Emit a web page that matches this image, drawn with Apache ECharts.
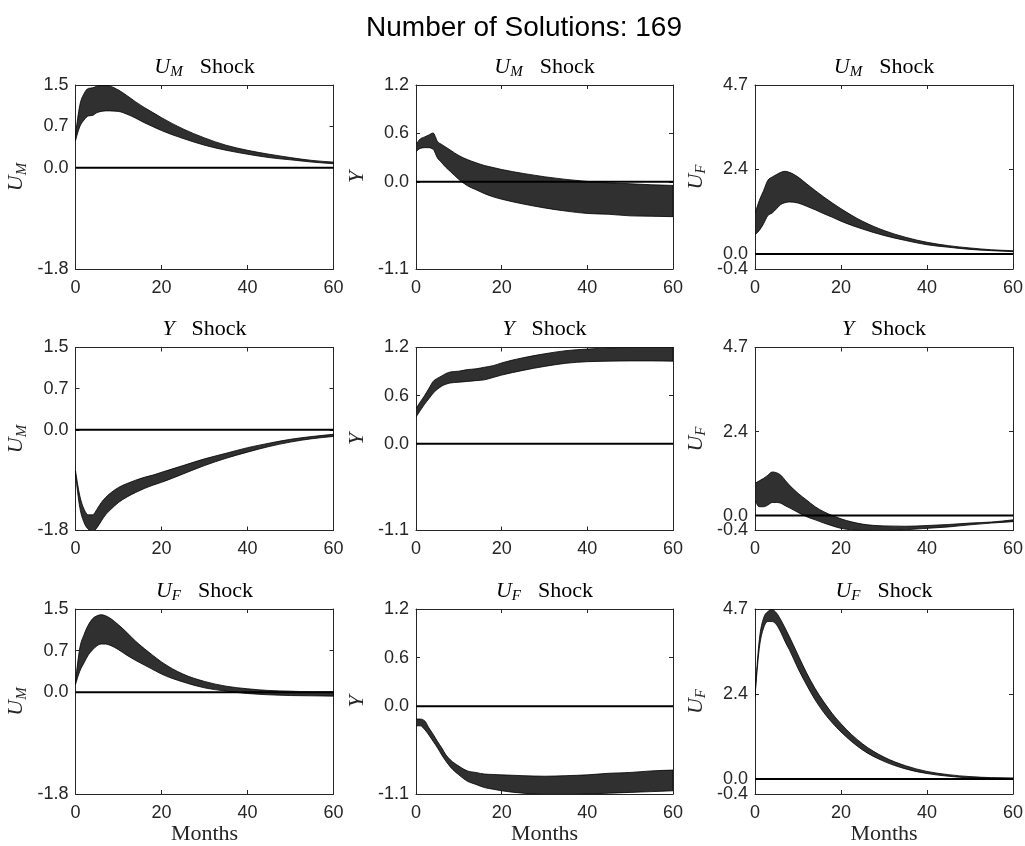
<!DOCTYPE html>
<html><head><meta charset="utf-8">
<script src="https://cdn.jsdelivr.net/npm/echarts@6/dist/echarts.min.js"></script>
<style>html,body{margin:0;padding:0;background:#fff}#c{width:1025px;height:846px}</style>
</head><body><div id="c"></div>
<script>
const months = [0,1,2,3,4,5,6,7,8,10,12,14,16,18,20,25,30,35,40,45,50,55,60];
const xTicks = [0,20,40,60];

const umShockUMHi = [0.58,1.11,1.32,1.41,1.42,1.45,1.46,1.46,1.45,1.38,1.28,1.17,1.07,0.98,0.89,0.69,0.53,0.40,0.31,0.24,0.18,0.13,0.10];
const umShockUMLo = [0.48,0.73,0.85,0.92,0.93,0.98,1.00,1.01,1.01,1.00,0.95,0.88,0.80,0.73,0.66,0.52,0.40,0.31,0.24,0.18,0.14,0.10,0.07];
const umShockYHi = [0.47,0.54,0.565,0.59,0.615,0.51,0.47,0.435,0.40,0.33,0.28,0.24,0.205,0.18,0.155,0.105,0.063,0.03,0.004,-0.013,-0.025,-0.038,-0.046];
const umShockYLo = [0.38,0.42,0.43,0.43,0.41,0.30,0.24,0.18,0.13,0.03,-0.05,-0.10,-0.15,-0.19,-0.22,-0.28,-0.33,-0.37,-0.40,-0.41,-0.43,-0.435,-0.44];
const umShockUFHi = [1.13,1.50,1.78,2.07,2.16,2.23,2.29,2.32,2.29,2.16,1.97,1.78,1.60,1.43,1.27,0.92,0.66,0.47,0.33,0.235,0.17,0.12,0.094];
const umShockUFLo = [0.54,0.66,0.85,1.08,1.15,1.27,1.39,1.44,1.46,1.43,1.34,1.24,1.13,1.03,0.92,0.70,0.52,0.38,0.26,0.19,0.13,0.094,0.066];

const yShockUMHi = [-0.73,-1.18,-1.42,-1.52,-1.52,-1.42,-1.30,-1.21,-1.14,-1.03,-0.96,-0.90,-0.85,-0.81,-0.76,-0.64,-0.52,-0.42,-0.32,-0.24,-0.17,-0.12,-0.08];
const yShockUMLo = [-0.79,-1.39,-1.66,-1.78,-1.82,-1.75,-1.63,-1.52,-1.44,-1.30,-1.20,-1.12,-1.05,-0.99,-0.94,-0.79,-0.64,-0.51,-0.40,-0.30,-0.22,-0.16,-0.12];
const yShockYHi = [0.445,0.53,0.61,0.70,0.79,0.83,0.86,0.89,0.91,0.92,0.94,0.95,0.97,0.99,1.025,1.09,1.14,1.18,1.20,1.215,1.22,1.22,1.22];
const yShockYLo = [0.34,0.42,0.50,0.57,0.64,0.69,0.73,0.755,0.77,0.78,0.79,0.80,0.81,0.84,0.87,0.93,0.98,1.02,1.04,1.047,1.05,1.05,1.047];
const yShockUFHi = [0.91,0.98,1.05,1.14,1.23,1.21,1.14,1.00,0.86,0.63,0.44,0.25,0.11,0.00,-0.09,-0.24,-0.29,-0.30,-0.28,-0.25,-0.21,-0.18,-0.12];
const yShockUFLo = [0.44,0.25,0.25,0.30,0.37,0.37,0.35,0.28,0.22,0.09,-0.03,-0.12,-0.21,-0.29,-0.36,-0.42,-0.43,-0.40,-0.36,-0.32,-0.26,-0.21,-0.17];

const ufShockUMHi = [0.19,0.78,1.02,1.19,1.30,1.35,1.37,1.35,1.31,1.19,1.05,0.90,0.77,0.65,0.535,0.32,0.19,0.106,0.06,0.03,0.018,0.006,0.006];
const ufShockUMLo = [0.135,0.37,0.52,0.66,0.75,0.82,0.85,0.85,0.83,0.75,0.65,0.56,0.48,0.40,0.32,0.18,0.076,0.018,-0.024,-0.047,-0.06,-0.065,-0.07];
const ufShockYHi = [-0.16,-0.16,-0.18,-0.27,-0.35,-0.44,-0.52,-0.61,-0.67,-0.75,-0.81,-0.83,-0.85,-0.855,-0.86,-0.87,-0.877,-0.87,-0.86,-0.84,-0.83,-0.81,-0.80];
const ufShockYLo = [-0.245,-0.245,-0.29,-0.36,-0.44,-0.52,-0.61,-0.69,-0.76,-0.86,-0.94,-0.98,-1.02,-1.04,-1.06,-1.09,-1.105,-1.105,-1.10,-1.09,-1.08,-1.07,-1.06];
const ufShockUFHi = [2.34,3.88,4.49,4.67,4.72,4.63,4.44,4.21,3.97,3.46,2.96,2.52,2.15,1.82,1.54,0.98,0.61,0.37,0.21,0.12,0.065,0.037,0.028];
const ufShockUFLo = [2.29,3.64,4.21,4.39,4.39,4.30,4.09,3.83,3.60,3.08,2.62,2.20,1.85,1.56,1.31,0.81,0.49,0.28,0.15,0.075,0.028,0.01,-0.01];

// y-axis ranges and tick values per response variable (columns)
const yTicksUM = [-1.8, 0, 0.735, 1.47];
const yTicksY = [-1.1, 0, 0.61, 1.22];
const yTicksUF = [-0.42, 0, 2.37, 4.74];

const shockNames = ['{it|U}{sub|M}', '{it|Y}', '{it|U}{sub|F}'];
const respNames = ['{it|U}{sub|M}', '{it|Y}', '{it|U}{sub|F}'];
const mainTitle = 'Number of Solutions: 169';
const xName = 'Months';

const bands = [
  [[umShockUMHi, umShockUMLo], [umShockYHi, umShockYLo], [umShockUFHi, umShockUFLo]],
  [[yShockUMHi, yShockUMLo], [yShockYHi, yShockYLo], [yShockUFHi, yShockUFLo]],
  [[ufShockUMHi, ufShockUMLo], [ufShockYHi, ufShockYLo], [ufShockUFHi, ufShockUFLo]]
];
const colTicks = [yTicksUM, yTicksY, yTicksUF];

const colLeft = [75.5, 416, 755];
const colWidth = [258, 257, 258];
const rowTop = [85, 347.5, 609];
const rowHeight = [184, 183, 185];

const SERIF = '"Liberation Serif","Times New Roman",serif';
const SANS = '"Liberation Sans",Arial,Helvetica,sans-serif';
const AX = '#262626';

const rich = {
  it: {fontFamily: SERIF, fontStyle: 'italic', fontSize: 22, lineHeight: 26, color: '#000'},
  sub: {fontFamily: SERIF, fontStyle: 'italic', fontSize: 15, lineHeight: 14, verticalAlign: 'bottom', color: '#000'},
  rm: {fontFamily: SERIF, fontSize: 22, lineHeight: 26, color: '#000', padding: [0, 0, 0, 17]}
};
const richAx = {
  it: {fontFamily: SERIF, fontStyle: 'italic', fontSize: 22, lineHeight: 26, color: AX},
  sub: {fontFamily: SERIF, fontStyle: 'italic', fontSize: 15, lineHeight: 14, verticalAlign: 'bottom', color: AX}
};

// monotone cubic (in pixel space) segments for a polyline with increasing x
function monoSegments(p) {
  const n = p.length, t = new Array(n).fill(0);
  const sgn = v => (v > 0) - (v < 0);
  for (let i = 1; i < n - 1; i++) {
    const h0 = p[i][0] - p[i-1][0], h1 = p[i+1][0] - p[i][0];
    const s0 = (p[i][1] - p[i-1][1]) / h0, s1 = (p[i+1][1] - p[i][1]) / h1;
    const q = (s0 * h1 + s1 * h0) / (h0 + h1);
    t[i] = (sgn(s0) + sgn(s1)) * Math.min(Math.abs(s0), Math.abs(s1), 0.5 * Math.abs(q)) || 0;
  }
  const hA = p[1][0] - p[0][0];
  t[0] = (3 * (p[1][1] - p[0][1]) / hA - t[1]) / 2;
  const hB = p[n-1][0] - p[n-2][0];
  t[n-1] = (3 * (p[n-1][1] - p[n-2][1]) / hB - t[n-2]) / 2;
  const segs = [];
  for (let i = 0; i < n - 1; i++) {
    const h = (p[i+1][0] - p[i][0]) / 3;
    segs.push([p[i], [p[i][0] + h, p[i][1] + t[i] * h], [p[i+1][0] - h, p[i+1][1] - t[i+1] * h], p[i+1]]);
  }
  return segs;
}
const f = v => v.toFixed(2);

function bandRenderer(hi, lo) {
  return function (params, api) {
    const up = months.map((m, i) => api.coord([m, hi[i]]));
    const dn = months.map((m, i) => api.coord([m, lo[i]]));
    const su = monoSegments(up), sd = monoSegments(dn);
    let d = 'M' + f(up[0][0]) + ' ' + f(up[0][1]);
    su.forEach(s => { d += 'C' + f(s[1][0]) + ' ' + f(s[1][1]) + ' ' + f(s[2][0]) + ' ' + f(s[2][1]) + ' ' + f(s[3][0]) + ' ' + f(s[3][1]); });
    const last = dn[dn.length - 1];
    d += 'L' + f(last[0]) + ' ' + f(last[1]);
    for (let i = sd.length - 1; i >= 0; i--) {
      const s = sd[i];
      d += 'C' + f(s[2][0]) + ' ' + f(s[2][1]) + ' ' + f(s[1][0]) + ' ' + f(s[1][1]) + ' ' + f(s[0][0]) + ' ' + f(s[0][1]);
    }
    d += 'Z';
    return {type: 'path', shape: {pathData: d},
      style: {fill: '#303030', stroke: '#000', lineWidth: 0.8}};
  };
}

const grids = [], xAxes = [], yAxes = [], series = [], graphics = [];
const fmt = v => Number(v).toFixed(1);

for (let r = 0; r < 3; r++) {
  for (let c = 0; c < 3; c++) {
    const k = r * 3 + c;
    const ticks = colTicks[c];
    grids.push({left: colLeft[c], top: rowTop[r], width: colWidth[c], height: rowHeight[r],
      containLabel: false, outerBoundsMode: 'none'});
    const lineSt = {color: AX, width: 1};
    xAxes.push({
      gridIndex: k, type: 'value', min: 0, max: 60, interval: 20, position: 'bottom',
      axisLine: {show: true, onZero: false, lineStyle: lineSt},
      axisTick: {show: true, inside: true, length: 4, lineStyle: lineSt},
      axisLabel: {show: true, fontSize: 18, fontFamily: SANS, color: AX, margin: 10,
        customValues: xTicks, formatter: v => String(v), hideOverlap: false},
      splitLine: {show: false},
      name: r === 2 ? xName : '', nameLocation: 'middle', nameGap: 27,
      nameTextStyle: {fontFamily: SERIF, fontSize: 22, color: AX}
    });
    xAxes.push({
      gridIndex: k, type: 'value', min: 0, max: 60, interval: 20, position: 'top',
      axisLine: {show: true, onZero: false, lineStyle: lineSt},
      axisTick: {show: true, inside: true, length: 4, lineStyle: lineSt},
      axisLabel: {show: false}, splitLine: {show: false}
    });
    // main left axis: line, ticks, upper labels, name
    yAxes.push({
      gridIndex: k, type: 'value', min: ticks[0], max: ticks[3], position: 'left',
      axisLine: {show: true, onZero: false, lineStyle: lineSt},
      axisTick: {show: true, inside: true, length: 4, customValues: ticks, lineStyle: lineSt},
      axisLabel: {show: true, customValues: ticks.slice(1), formatter: fmt, fontSize: 18, fontFamily: SANS,
        color: AX, margin: 7, padding: [5, 0, 0, 0], hideOverlap: false},
      splitLine: {show: false},
      name: respNames[c], nameLocation: 'middle', nameRotate: 90, nameGap: 46,
      nameTextStyle: {fontFamily: SERIF, fontSize: 22, color: AX, rich: richAx}
    });
    // right box axis
    yAxes.push({
      gridIndex: k, type: 'value', min: ticks[0], max: ticks[3], position: 'right',
      axisLine: {show: true, onZero: false, lineStyle: lineSt},
      axisTick: {show: true, inside: true, length: 4, customValues: ticks, lineStyle: lineSt},
      axisLabel: {show: false}, splitLine: {show: false}
    });
    // second left axis carrying only the minimum label (so it is not hidden by overlap)
    yAxes.push({
      gridIndex: k, type: 'value', min: ticks[0], max: ticks[3], position: 'left', offset: 0,
      axisLine: {show: false, onZero: false}, axisTick: {show: false},
      axisLabel: {show: true, customValues: [ticks[0]], formatter: fmt, fontSize: 18, fontFamily: SANS,
        color: AX, margin: 7, padding: [5, 0, 0, 0], hideOverlap: false},
      splitLine: {show: false}
    });

    const [hi, lo] = bands[r][c];
    series.push({
      type: 'custom', coordinateSystem: 'cartesian2d', xAxisIndex: 2 * k, yAxisIndex: 3 * k,
      data: [[0, 0]], renderItem: bandRenderer(hi, lo), clip: true, silent: true, z: 2
    });
    series.push({
      type: 'line', xAxisIndex: 2 * k, yAxisIndex: 3 * k,
      data: [[0, 0], [60, 0]], symbol: 'none',
      lineStyle: {color: '#000', width: 2}, silent: true, z: 5
    });

    graphics.push({
      type: 'text', x: colLeft[c] + colWidth[c] / 2, y: rowTop[r] - 5,
      style: {text: shockNames[r] + '{rm|Shock}', rich: rich, align: 'center', verticalAlign: 'bottom',
        fontFamily: SERIF, fontSize: 22, fill: '#000'}
    });
  }
}

graphics.push({
  type: 'text', x: 524, y: 28,
  style: {text: mainTitle, align: 'center', verticalAlign: 'middle',
    fontFamily: SANS, fontSize: 28, fill: '#000'}
});

const chart = echarts.init(document.getElementById('c'), null, {renderer: 'canvas'});
chart.setOption({
  animation: false,
  backgroundColor: '#fff',
  grid: grids, xAxis: xAxes, yAxis: yAxes, series: series,
  graphic: graphics
});
</script></body></html>
